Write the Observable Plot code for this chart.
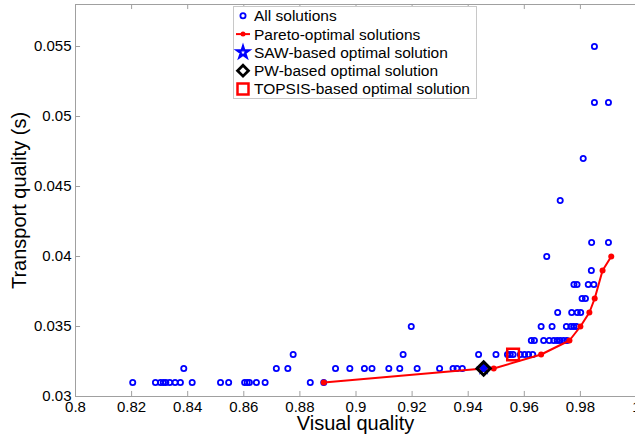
<!DOCTYPE html>
<html><head><meta charset="utf-8">
<script src="https://cdn.jsdelivr.net/npm/d3@7"></script>
<script src="https://cdn.jsdelivr.net/npm/@observablehq/plot@0.6"></script>
<style>
body{margin:0;background:#fff;}
#wrap{position:relative;width:635px;height:439px;overflow:hidden;font-family:"Liberation Sans",Arial,sans-serif;}
#legend{position:absolute;left:233px;top:6px;}
</style></head><body><div id="wrap"></div>
<script>
// All solutions (visual quality, transport quality)
const allX = [
  0.8204,0.8285,0.8303,0.8313,0.8322,0.8336,0.8355,0.8374,0.8416,0.8517,0.8546,0.8603,0.8612,0.8620,0.8645,0.8676,0.8837,0.8885,
  0.8386,0.8716,0.8757,0.8927,0.8978,0.9030,0.9057,0.9117,0.9156,0.9218,0.9298,0.9346,0.9360,0.9379,0.9455,
  0.8776,0.9168,0.9437,0.9499,0.9540,0.9550,0.9560,0.9586,0.9601,0.9615,0.9630,
  0.9625,0.9636,0.9669,0.9689,0.9705,0.9717,0.9728,0.9740,0.9752,
  0.9197,0.9660,0.9699,0.9750,0.9766,0.9776,0.9786,
  0.9719,0.9769,0.9789,0.9801,
  0.9806,0.9818,
  0.9777,0.9788,0.9828,0.9848,
  0.9839,
  0.9680,
  0.9840,0.9900,
  0.9728,
  0.9810,
  0.9850,0.9900,
  0.9850
];
const allY = [
  0.031,0.031,0.031,0.031,0.031,0.031,0.031,0.031,0.031,0.031,0.031,0.031,0.031,0.031,0.031,0.031,0.031,0.031,
  0.032,0.032,0.032,0.032,0.032,0.032,0.032,0.032,0.032,0.032,0.032,0.032,0.032,0.032,0.032,
  0.033,0.033,0.033,0.033,0.033,0.033,0.033,0.033,0.033,0.033,0.033,
  0.034,0.034,0.034,0.034,0.034,0.034,0.034,0.034,0.034,
  0.035,0.035,0.035,0.035,0.035,0.035,0.035,
  0.036,0.036,0.036,0.036,
  0.037,0.037,
  0.038,0.038,0.038,0.038,
  0.039,
  0.040,
  0.041,0.041,
  0.044,
  0.047,
  0.051,0.051,
  0.055
];
// Pareto-optimal front
const paretoX = [0.8885,0.9455,0.9491,0.9660,0.9761,0.9800,0.9832,0.9851,0.9879,0.9910];
const paretoY = [0.031,0.032,0.032,0.033,0.034,0.035,0.036,0.037,0.039,0.040];
// Decision-method optima
const sawX = [0.9455], sawY = [0.032];
const pwX = [0.9455], pwY = [0.032];
const topsisX = [0.9560], topsisY = [0.033];
// Axes
const xTicks = [0.8,0.82,0.84,0.86,0.88,0.9,0.92,0.94,0.96,0.98,1];
const yTicks = [0.03,0.035,0.04,0.045,0.05,0.055];
const xDomain = [0.8, 1.0], yDomain = [0.03, 0.058];
const legendLabels = ["All solutions","Pareto-optimal solutions","SAW-based optimal solution","PW-based optimal solution","TOPSIS-based optimal solution"];

const allPts = allX.map((x,i)=>({x, y: allY[i]}));
const pareto = paretoX.map((x,i)=>({x, y: paretoY[i]}));
const saw = sawX.map((x,i)=>({x, y: sawY[i]}));
const pw = pwX.map((x,i)=>({x, y: pwY[i]}));
const topsis = topsisX.map((x,i)=>({x, y: topsisY[i]}));

const axisColor = "#a0a0a0";
const blue = "#0000ff", red = "#ff0000";
const tx = 0.0018, ty = 0.00036;

const chart = Plot.plot({
  width: 635, height: 439,
  marginLeft: 75, marginRight: 0, marginTop: 4, marginBottom: 43,
  x: {domain: xDomain, range: [75, 636], axis: null},
  y: {domain: yDomain, range: [396, 4], axis: null},
  style: {fontFamily: "Liberation Sans, Arial, sans-serif", color: "#000", background: "#fff"},
  marks: [
    Plot.ruleY([yDomain[0]], {stroke: axisColor, strokeWidth: 1}),
    Plot.ruleY([yDomain[1]], {stroke: axisColor, strokeWidth: 1}),
    Plot.ruleX([xDomain[0]], {stroke: axisColor, strokeWidth: 1}),
    Plot.ruleX(xTicks, {x: d=>d, y1: yDomain[0], y2: yDomain[0]+ty, stroke: axisColor}),
    Plot.ruleX(xTicks, {x: d=>d, y1: yDomain[1], y2: yDomain[1]-ty, stroke: axisColor}),
    Plot.ruleY(yTicks, {y: d=>d, x1: xDomain[0], x2: xDomain[0]+tx, stroke: axisColor}),
    Plot.axisX({ticks: xTicks, tickSize: 0, tickPadding: 5, fontSize: 15, tickFormat: d=>String(d), label: null}),
    Plot.axisY({ticks: yTicks, tickSize: 0, tickPadding: 4, fontSize: 15, tickFormat: d=>String(d), label: null}),
    Plot.text(["Visual quality"], {frameAnchor: "bottom", lineAnchor: "middle", dy: 26.6, fontSize: 20, text: d=>d}),
    Plot.text(["Transport quality (s)"], {frameAnchor: "left", textAnchor: "middle", lineAnchor: "middle", dx: -56, rotate: -90, fontSize: 20, text: d=>d}),
    Plot.dot(allPts, {x: "x", y: "y", r: 2.6, stroke: blue, strokeWidth: 1.8, fill: "none"}),
    Plot.line(pareto, {x: "x", y: "y", stroke: red, strokeWidth: 2}),
    Plot.dot(pareto, {x: "x", y: "y", r: 3, fill: red, stroke: "none"}),
    Plot.dot(saw, {x: "x", y: "y", symbol: "star", r: 3.2, stroke: blue, strokeWidth: 1.5, fill: blue}),
    Plot.dot(pw, {x: "x", y: "y", symbol: "diamond2", r: 6, stroke: "#000", strokeWidth: 3, fill: "none"}),
    Plot.dot(topsis, {x: "x", y: "y", symbol: "square", r: 6.6, stroke: red, strokeWidth: 2.5, fill: "none"})
  ]
});
const wrap = document.getElementById("wrap");
wrap.appendChild(chart);

// Legend
const W = 244, H = 93, sx = 10, tx0 = 21, y0 = 9.8, dy = 18.3;
const star = d3.symbol(d3.symbolStar, 40)();
const diamond = d3.symbol(d3.symbolDiamond2, 75)();
let s = `<svg id="legend" width="${W}" height="${H}" xmlns="http://www.w3.org/2000/svg" font-family="Liberation Sans, Arial, sans-serif" font-size="15.5">`;
s += `<rect x="0.5" y="0.5" width="${W-1}" height="${H-1}" fill="#fff" stroke="#c8c8c8"/>`;
s += `<circle cx="${sx}" cy="${y0}" r="2.6" fill="none" stroke="${blue}" stroke-width="1.8"/>`;
s += `<line x1="${sx-7}" x2="${sx+7}" y1="${y0+dy}" y2="${y0+dy}" stroke="${red}" stroke-width="2"/><circle cx="${sx}" cy="${y0+dy}" r="2.5" fill="${red}"/>`;
s += `<path d="${star}" transform="translate(${sx},${y0+2*dy})" fill="#fff" stroke="${blue}" stroke-width="2.4"/>`;
s += `<path d="${diamond}" transform="translate(${sx},${y0+3*dy})" fill="none" stroke="#000" stroke-width="2.8"/>`;
s += `<rect x="${sx-5.5}" y="${y0+4*dy-5.5}" width="11" height="11" fill="none" stroke="${red}" stroke-width="2.5"/>`;
legendLabels.forEach((t,i)=>{ s += `<text x="${tx0}" y="${y0+i*dy}" dy="0.35em" fill="#000">${t}</text>`; });
s += `</svg>`;
wrap.insertAdjacentHTML("beforeend", s);
</script>
</body></html>
